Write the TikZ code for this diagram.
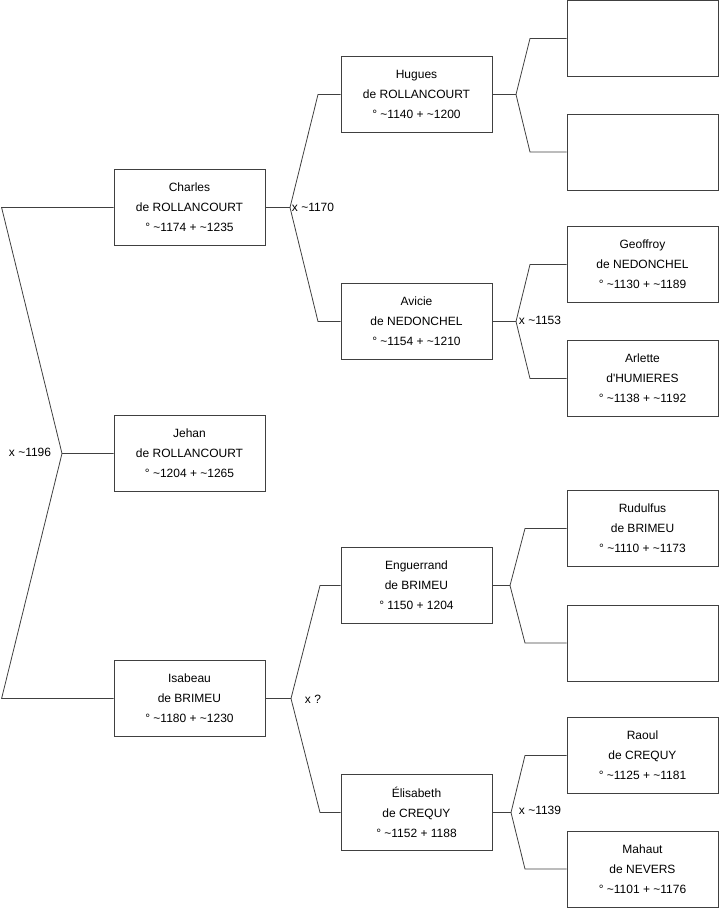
\documentclass[tikz,border=0pt]{standalone}
\usepackage{fontspec}
\setmainfont{Liberation Sans}
\usepackage{tikz}
\usetikzlibrary{positioning}
\newcommand\envi{\textasciitilde}

\begin{document}
\begin{tikzpicture}[x=1pt, y=-1pt, every node/.style={font=\fontsize{12}{20}\selectfont},
  pers/.style={draw=black!75, line width=0.8pt, minimum width=151pt, minimum height=76pt, inner sep=0pt, align=center},
  lien/.style={draw=black!75, line width=0.8pt}]
\useasboundingbox (0,0) rectangle (719,908);
% personnes
\foreach \n/\x/\y/\t in {charles/189.5/207.5/{Charles\\de ROLLANCOURT\\° \envi1174 + \envi1235},
  jehan/189.5/453.5/{Jehan\\de ROLLANCOURT\\° \envi1204 + \envi1265},
  isabeau/189.5/698.5/{Isabeau\\de BRIMEU\\° \envi1180 + \envi1230},
  hugues/416.5/94.5/{Hugues\\de ROLLANCOURT\\° \envi1140 + \envi1200},
  avicie/416.5/321.5/{Avicie\\de NEDONCHEL\\° \envi1154 + \envi1210},
  enguerrand/416.5/585.5/{Enguerrand\\de BRIMEU\\° 1150 + 1204},
  elisabeth/416.5/812.5/{Élisabeth\\de CREQUY\\° \envi1152 + 1188},
  vide1/642.5/38.5/{}, vide2/642.5/152/{},
  geoffroy/642.5/264.5/{Geoffroy\\de NEDONCHEL\\° \envi1130 + \envi1189},
  arlette/642.5/378.5/{Arlette\\d\textquotesingle HUMIERES\\° \envi1138 + \envi1192},
  rudulfus/642.5/528.5/{Rudulfus\\de BRIMEU\\° \envi1110 + \envi1173},
  vide3/642.5/643/{},
  raoul/642.5/755.5/{Raoul\\de CREQUY\\° \envi1125 + \envi1181},
  mahaut/642.5/869/{Mahaut\\de NEVERS\\° \envi1101 + \envi1176}}
  \node[pers] (\n) at (\x,\y) {\t};
% parents
\foreach \e/\p/\m/\vx/\bx in {charles/hugues/avicie/290/318, hugues/vide1/vide2/516/530,
  avicie/geoffroy/arlette/516/530, isabeau/enguerrand/elisabeth/291/320,
  enguerrand/rudulfus/vide3/510/525, elisabeth/raoul/mahaut/511/525}{
  \coordinate (v\e) at (\e.east -| \vx,0);
  \draw[lien] (\e.east) -- (v\e) -- (\p.west -| \bx,0) -- (\p.west);
  \draw[lien] (v\e) -- (\m.west -| \bx,0) -- (\m.west);
}
% fratrie
\coordinate (vjehan) at (62,453.5);
\draw[lien] (charles.west) -- ++(-112,0) -- (vjehan) -- (jehan.west);
\draw[lien] (isabeau.west) -- ++(-112,0) -- (vjehan);
% mariages
\node (m1196) at (30,452) {x \envi1196};
\node (m1170) at (313,207) {x \envi1170};
\node (m1153) at (540,320) {x \envi1153};
\node (minc) at (313,699) {x ?};
\node (m1139) at (540,810) {x \envi1139};
\end{tikzpicture}
\end{document}
